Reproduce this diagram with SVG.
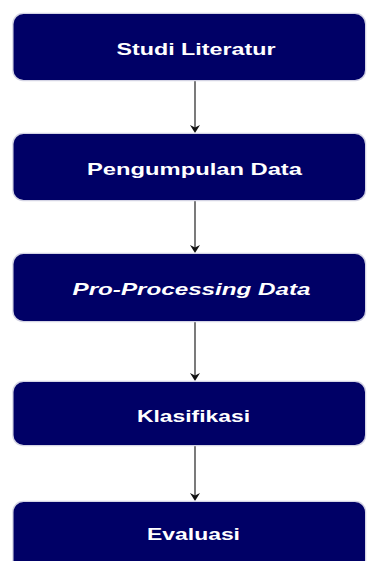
<svg xmlns="http://www.w3.org/2000/svg" width="367" height="561" viewBox="0 0 367 561">
  <defs>
    <style>
      .box { fill: #000066; }
      .shadow { fill: none; stroke: #d4d4e4; stroke-width: 1.5; }
      .lbl { fill: #ffffff; font-family: "Liberation Sans", Arial, sans-serif; font-weight: bold; font-size: 16.3px; text-anchor: middle; }
      .it { font-style: italic; }
      .conn { stroke: #222222; stroke-width: 1.2; fill: none; }
      .head { fill: #111111; }
    </style>
  </defs>
  <rect width="367" height="561" fill="#ffffff"/>
  <g id="connectors">
    <line class="conn" x1="195" y1="80" x2="195" y2="128"/>
    <path class="head" d="M190,125 L195,127.5 L200,125 L195,133 Z"/>
    <line class="conn" x1="195" y1="200" x2="195" y2="248"/>
    <path class="head" d="M190,245 L195,247.5 L200,245 L195,253 Z"/>
    <line class="conn" x1="195" y1="321" x2="195" y2="376"/>
    <path class="head" d="M190,373 L195,375.5 L200,373 L195,381 Z"/>
    <line class="conn" x1="195" y1="445" x2="195" y2="496"/>
    <path class="head" d="M190,493 L195,495.5 L200,493 L195,501 Z"/>
  </g>
  <g id="node-studi-literatur">
    <rect class="shadow" x="13" y="13.5" width="352.5" height="67" rx="10"/>
    <rect class="box" x="13.5" y="14" width="351.5" height="66" rx="10"/>
    <text class="lbl" x="196" y="55" textLength="159" lengthAdjust="spacingAndGlyphs">Studi Literatur</text>
  </g>
  <g id="node-pengumpulan-data">
    <rect class="shadow" x="13" y="133.5" width="352.5" height="67" rx="10"/>
    <rect class="box" x="13.5" y="134" width="351.5" height="66" rx="10"/>
    <text class="lbl" x="194.5" y="175" textLength="215" lengthAdjust="spacingAndGlyphs">Pengumpulan Data</text>
  </g>
  <g id="node-pro-processing-data">
    <rect class="shadow" x="13" y="253.5" width="352.5" height="68" rx="10"/>
    <rect class="box" x="13.5" y="254" width="351.5" height="67" rx="10"/>
    <text class="lbl it" x="191.5" y="295" textLength="238" lengthAdjust="spacingAndGlyphs">Pro-Processing Data</text>
  </g>
  <g id="node-klasifikasi">
    <rect class="shadow" x="13" y="381.5" width="352.5" height="64" rx="10"/>
    <rect class="box" x="13.5" y="382" width="351.5" height="63" rx="10"/>
    <text class="lbl" x="193.5" y="421.7" textLength="113" lengthAdjust="spacingAndGlyphs">Klasifikasi</text>
  </g>
  <g id="node-evaluasi">
    <rect class="shadow" x="13" y="501.5" width="352.5" height="70" rx="10"/>
    <rect class="box" x="13.5" y="502" width="351.5" height="70" rx="10"/>
    <text class="lbl" x="193.5" y="540" textLength="93" lengthAdjust="spacingAndGlyphs">Evaluasi</text>
  </g>
</svg>
